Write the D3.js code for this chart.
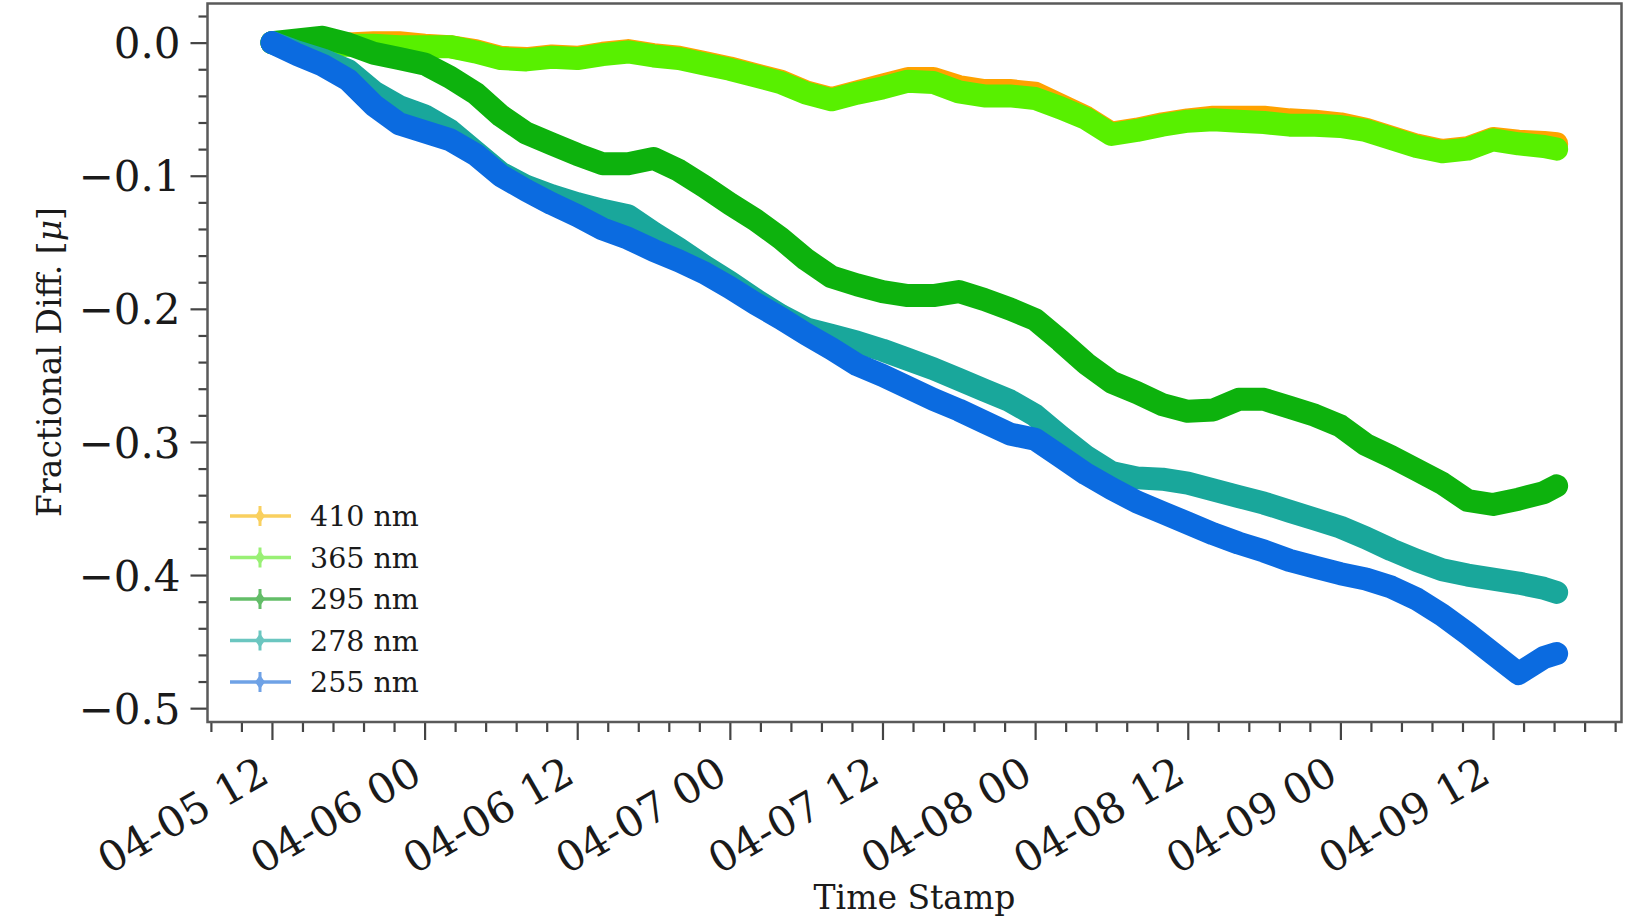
<!DOCTYPE html>
<html><head><meta charset="utf-8">
<script src="https://cdn.jsdelivr.net/npm/d3@7"></script>
<style>
body{margin:0;background:#fff;}
svg{display:block;}
</style>
</head><body><svg id="chart" width="1628" height="922"></svg>
<script>
// ---------------- data ----------------
const timeStamps = [
 "2021-04-05 12:00","2021-04-05 14:00","2021-04-05 16:00","2021-04-05 18:00","2021-04-05 20:00","2021-04-05 22:00",
 "2021-04-06 00:00","2021-04-06 02:00","2021-04-06 04:00","2021-04-06 06:00","2021-04-06 08:00","2021-04-06 10:00",
 "2021-04-06 12:00","2021-04-06 14:00","2021-04-06 16:00","2021-04-06 18:00","2021-04-06 20:00","2021-04-06 22:00",
 "2021-04-07 00:00","2021-04-07 02:00","2021-04-07 04:00","2021-04-07 06:00","2021-04-07 08:00","2021-04-07 10:00",
 "2021-04-07 12:00","2021-04-07 14:00","2021-04-07 16:00","2021-04-07 18:00","2021-04-07 20:00","2021-04-07 22:00",
 "2021-04-08 00:00","2021-04-08 02:00","2021-04-08 04:00","2021-04-08 06:00","2021-04-08 08:00","2021-04-08 10:00",
 "2021-04-08 12:00","2021-04-08 14:00","2021-04-08 16:00","2021-04-08 18:00","2021-04-08 20:00","2021-04-08 22:00",
 "2021-04-09 00:00","2021-04-09 02:00","2021-04-09 04:00","2021-04-09 06:00","2021-04-09 08:00","2021-04-09 10:00",
 "2021-04-09 12:00","2021-04-09 14:00","2021-04-09 16:00","2021-04-09 17:00"
];
const seriesNames = ["410 nm","365 nm","295 nm","278 nm","255 nm"];
const values410 = [0,0.000,-0.001,-0.001,0.000,0.000,-0.002,-0.003,-0.006,-0.011,
 -0.012,-0.010,-0.011,-0.008,-0.006,-0.009,-0.011,-0.015,-0.019,-0.024,
 -0.029,-0.037,-0.042,-0.037,-0.032,-0.027,-0.027,-0.033,-0.036,-0.036,
 -0.038,-0.047,-0.056,-0.068,-0.065,-0.061,-0.058,-0.056,-0.056,-0.056,
 -0.058,-0.059,-0.061,-0.065,-0.071,-0.077,-0.081,-0.079,-0.072,-0.074,
 -0.075,-0.076];
const values365 = [0,-0.001,-0.002,-0.002,-0.002,-0.003,-0.003,-0.003,-0.007,-0.012,
 -0.013,-0.011,-0.012,-0.009,-0.007,-0.010,-0.012,-0.016,-0.020,-0.025,
 -0.030,-0.038,-0.043,-0.038,-0.034,-0.029,-0.030,-0.037,-0.040,-0.040,
 -0.042,-0.049,-0.057,-0.069,-0.066,-0.062,-0.059,-0.058,-0.059,-0.060,
 -0.062,-0.062,-0.063,-0.066,-0.072,-0.078,-0.082,-0.080,-0.073,-0.076,
 -0.078,-0.080];
const values295 = [0,0.002,0.004,-0.001,-0.008,-0.012,-0.016,-0.026,-0.038,-0.055,
 -0.068,-0.076,-0.084,-0.091,-0.091,-0.087,-0.096,-0.108,-0.121,-0.133,
 -0.147,-0.163,-0.176,-0.182,-0.187,-0.190,-0.190,-0.187,-0.193,-0.200,
 -0.208,-0.224,-0.241,-0.255,-0.263,-0.272,-0.277,-0.276,-0.268,-0.268,
 -0.274,-0.280,-0.288,-0.302,-0.311,-0.321,-0.331,-0.344,-0.347,-0.343,
 -0.338,-0.333];
const values278 = [0,-0.007,-0.013,-0.021,-0.037,-0.048,-0.055,-0.066,-0.082,-0.098,
 -0.108,-0.115,-0.121,-0.126,-0.130,-0.143,-0.155,-0.168,-0.180,-0.193,
 -0.205,-0.215,-0.220,-0.225,-0.231,-0.238,-0.245,-0.253,-0.261,-0.269,
 -0.280,-0.296,-0.311,-0.323,-0.327,-0.328,-0.331,-0.336,-0.341,-0.346,
 -0.352,-0.358,-0.364,-0.372,-0.381,-0.389,-0.396,-0.400,-0.403,-0.406,
 -0.410,-0.413];
const values255 = [0,-0.009,-0.017,-0.028,-0.047,-0.061,-0.067,-0.073,-0.084,-0.100,
 -0.111,-0.121,-0.130,-0.140,-0.147,-0.156,-0.164,-0.173,-0.184,-0.196,
 -0.207,-0.219,-0.230,-0.242,-0.250,-0.259,-0.268,-0.276,-0.285,-0.294,
 -0.298,-0.311,-0.324,-0.335,-0.345,-0.353,-0.361,-0.369,-0.376,-0.382,
 -0.389,-0.394,-0.399,-0.403,-0.409,-0.418,-0.430,-0.444,-0.459,-0.474,
 -0.462,-0.459];
const seriesColors = ["#FFA200","#58F000","#0DB20D","#19A79B","#0B6BE0"];
const legendColors = ["#F7C12A","#78EC48","#2FA836","#3AB4AC","#3F83DE"];
const yMajorTicks = [0,-0.1,-0.2,-0.3,-0.4,-0.5];
const xMajorTicks = ["2021-04-05 12:00","2021-04-06 00:00","2021-04-06 12:00","2021-04-07 00:00",
 "2021-04-07 12:00","2021-04-08 00:00","2021-04-08 12:00","2021-04-09 00:00","2021-04-09 12:00"];
const xLimits = ["2021-04-05 06:56","2021-04-09 22:06"];
const yLimits = [-0.5104, 0.0294];
const xLabel = "Time Stamp";
// ------------------------------------------------------------------------

const parse = d3.timeParse("%Y-%m-%d %H:%M");
const svg = d3.select("#chart");
const L = 207.5, R = 1621.5, T = 3.5, B = 722;
const FONT = "'DejaVu Serif', serif";

const x = d3.scaleTime().domain(xLimits.map(parse)).range([L, R]);
const y = d3.scaleLinear().domain(yLimits).range([B, T]);

svg.append("defs").append("clipPath").attr("id","clip")
  .append("rect").attr("x",L).attr("y",T).attr("width",R-L).attr("height",B-T);

const allSeries = [values410, values365, values295, values278, values255];
const times = timeStamps.map(parse);
const line = d3.line().x((d,i)=>x(times[i])).y(d=>y(d));

const gData = svg.append("g").attr("clip-path","url(#clip)");
allSeries.forEach((vals, k) => {
  gData.append("path").datum(vals)
    .attr("d", line)
    .attr("fill","none")
    .attr("stroke", seriesColors[k])
    .attr("stroke-width", 23)
    .attr("stroke-linejoin","round")
    .attr("stroke-linecap","round");
});

// minor ticks
const majorDates = xMajorTicks.map(parse);
const step = (majorDates[1] - majorDates[0]) / 5;
const xMinor = [];
const [d0, d1] = x.domain();
for (let t = +majorDates[0]; t >= +d0; t -= step) xMinor.push(new Date(t));
for (let t = +majorDates[0] + step; t <= +d1; t += step) xMinor.push(new Date(t));
const xMinorOnly = xMinor.filter(d => !majorDates.some(m => Math.abs(m - d) < 1000));

const yMinor = [];
for (let v = -0.5; v <= yLimits[1]; v += 0.02) {
  const r = Math.round(v*100)/100;
  if (Math.abs(r*10 - Math.round(r*10)) > 1e-6) yMinor.push(r);
}

function styleAxis(g){
  g.select(".domain").remove();
  g.selectAll("line").attr("stroke","#444").attr("stroke-width",2.2);
  g.attr("font-family", FONT).attr("font-size", 42);
  g.selectAll("text").attr("fill","#1a1a1a");
}

// y axis
svg.append("g").attr("transform",`translate(${L},0)`)
  .call(d3.axisLeft(y).tickValues(yMinor).tickSize(9).tickFormat(""))
  .call(styleAxis);
svg.append("g").attr("transform",`translate(${L},0)`)
  .call(d3.axisLeft(y).tickValues(yMajorTicks).tickSize(17).tickPadding(10).tickFormat(d3.format(".1f")))
  .call(styleAxis)
  .call(g => g.selectAll("text").attr("dy","0.36em"));

// x axis
svg.append("g").attr("transform",`translate(0,${B})`)
  .call(d3.axisBottom(x).tickValues(xMinorOnly).tickSize(10).tickFormat(""))
  .call(styleAxis);
svg.append("g").attr("transform",`translate(0,${B})`)
  .call(d3.axisBottom(x).tickValues(majorDates).tickSize(18).tickFormat(d3.timeFormat("%m-%d %H")))
  .call(styleAxis)
  .call(g => g.selectAll("text")
     .attr("x",0).attr("y",0).attr("dy",null)
     .attr("text-anchor","end")
     .attr("transform","translate(-1,59) rotate(-30)"));

// frame
svg.append("rect").attr("x",L).attr("y",T).attr("width",R-L).attr("height",B-T)
  .attr("fill","none").attr("stroke","#5a5a5a").attr("stroke-width",2.5);

// axis labels
svg.append("text").attr("x",(L+R)/2).attr("y",909)
  .attr("text-anchor","middle").attr("font-family",FONT).attr("font-size",33).attr("fill","#1a1a1a")
  .text(xLabel);
const yl = svg.append("text").attr("transform","translate(61,362) rotate(-90)")
  .attr("text-anchor","middle").attr("font-family",FONT).attr("font-size",33).attr("fill","#1a1a1a");
yl.append("tspan").text("Fractional Diff. [");
yl.append("tspan").attr("font-style","italic").text("μ");
yl.append("tspan").text("]");

// legend
const legY0 = 516, legDY = 41.5;
const leg = svg.append("g");
seriesNames.forEach((name, k) => {
  const cy = legY0 + k*legDY;
  const g = leg.append("g").attr("opacity",0.75);
  g.append("line").attr("x1",230).attr("x2",291).attr("y1",cy).attr("y2",cy)
    .attr("stroke",legendColors[k]).attr("stroke-width",3.5);
  g.append("line").attr("x1",260).attr("x2",260).attr("y1",cy-10).attr("y2",cy+10)
    .attr("stroke",legendColors[k]).attr("stroke-width",3);
  g.append("path").attr("d",`M260,${cy-7}L265,${cy}L260,${cy+7}L255,${cy}Z`)
    .attr("fill",legendColors[k]);
  leg.append("text").attr("x",310).attr("y",cy).attr("dy","0.36em")
    .attr("font-family",FONT).attr("font-size",28.5).attr("fill","#1a1a1a")
    .text(name);
});
</script>
</body></html>
